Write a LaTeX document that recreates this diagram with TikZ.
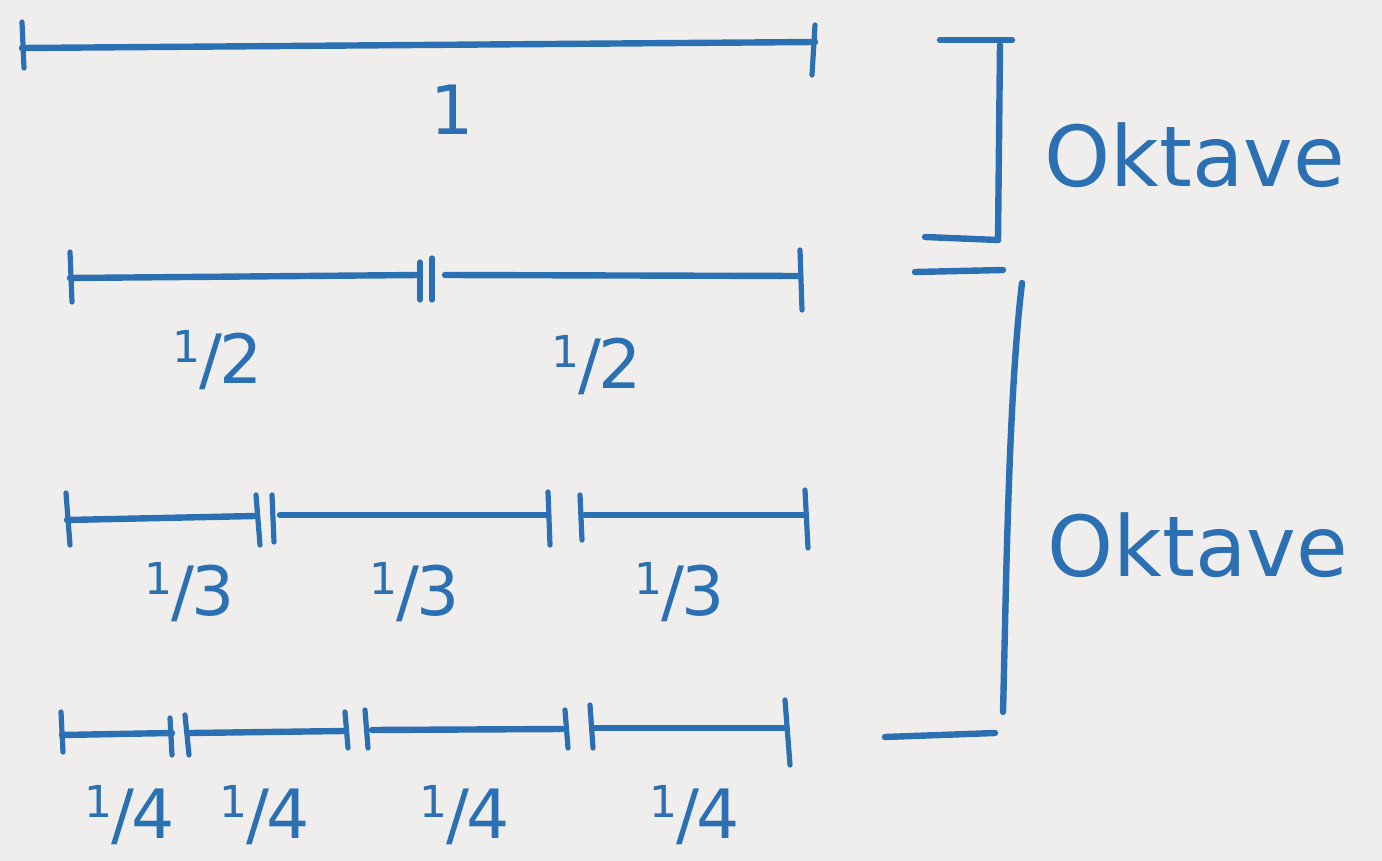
\documentclass[tikz,border=0pt]{standalone}
\usepackage{fontspec}
\setmainfont{DejaVu Sans}
\definecolor{ink}{RGB}{42,112,178}
\definecolor{paper}{RGB}{240,238,236}
\newcommand\frc[1]{\raisebox{0.32em}{\fontsize{22}{22}\selectfont 1}\kern-0.02em/\kern-0.04em#1}
\tikzset{
  pen/.style={draw=ink, line width=3.2pt, line cap=round, line join=round},
  tk/.style={draw=ink, line width=2.6pt, line cap=round},
  lab/.style={text=ink, font=\fontsize{34}{36}\selectfont, inner sep=0pt},
  oct/.style={text=ink, font=\fontsize{42}{44}\selectfont, inner sep=0pt}
}
\begin{document}
\begin{tikzpicture}[x=0.5pt,y=-0.5pt]
\fill[paper] (0,0) rectangle (1382,861);
\useasboundingbox (0,0) rectangle (1382,861);
% Row 1
\coordinate (a1) at (22,48); \coordinate (a2) at (815,42);
\draw[pen] (a1) -- (a2);
\draw[tk] (22,22) -- (24,68);
\draw[tk] (815,25) -- (812,75);
\node[lab] (l1) at (452,110) {1};
% Row 2
\coordinate (b1) at (70,278); \coordinate (b2) at (420,275);
\coordinate (b3) at (445,275); \coordinate (b4) at (800,276);
\draw[pen] (b1) -- (b2);
\draw[pen] (b3) -- (b4);
\draw[tk] (70,252) -- (72,302);
\draw[tk] (420,262) -- (420,300);
\draw[tk] (432,258) -- (432,300);
\draw[tk] (800,250) -- (802,310);
\node[lab] (l2a) at (218,360) {\frc{2}};
\node[lab] (l2b) at (597,365) {\frc{2}};
% Row 3
\coordinate (c1) at (67,520); \coordinate (c2) at (255,516);
\coordinate (c3) at (280,515); \coordinate (c4) at (547,515);
\coordinate (c5) at (585,515); \coordinate (c6) at (805,515);
\draw[pen] (c1) -- (c2);
\draw[pen] (c3) -- (c4);
\draw[pen] (c5) -- (c6);
\draw[tk] (66,493) -- (70,545);
\draw[tk] (256,495) -- (260,545);
\draw[tk] (272,495) -- (274,542);
\draw[tk] (548,492) -- (550,545);
\draw[tk] (580,495) -- (582,540);
\draw[tk] (805,490) -- (808,548);
\node[lab] (l3a) at (190,592) {\frc{3}};
\node[lab] (l3b) at (415,592) {\frc{3}};
\node[lab] (l3c) at (680,592) {\frc{3}};
% Row 4
\coordinate (d1) at (62,735); \coordinate (d2) at (172,733);
\coordinate (d3) at (190,733); \coordinate (d4) at (345,731);
\coordinate (d5) at (372,730); \coordinate (d6) at (562,729);
\coordinate (d7) at (595,728); \coordinate (d8) at (785,728);
\draw[pen] (d1) -- (d2);
\draw[pen] (d3) -- (d4);
\draw[pen] (d5) -- (d6);
\draw[pen] (d7) -- (d8);
\draw[tk] (61,712) -- (63,752);
\draw[tk] (170,718) -- (172,755);
\draw[tk] (185,715) -- (189,755);
\draw[tk] (345,712) -- (348,748);
\draw[tk] (365,710) -- (368,748);
\draw[tk] (565,710) -- (568,748);
\draw[tk] (590,705) -- (593,748);
\draw[tk] (785,700) -- (790,765);
\node[lab] (l4a) at (130,815) {\frc{4}};
\node[lab] (l4b) at (265,815) {\frc{4}};
\node[lab] (l4c) at (465,815) {\frc{4}};
\node[lab] (l4d) at (695,815) {\frc{4}};
% Brackets
\coordinate (p1) at (940,40); \coordinate (p2) at (1012,40);
\coordinate (p3) at (1000,45); \coordinate (p4) at (998,240);
\coordinate (p5) at (925,237);
\draw[pen] (p1) -- (p2);
\draw[pen] (p3) -- (p4);
\draw[pen] (p5) -- (p4);
\coordinate (q1) at (915,272); \coordinate (q2) at (1003,270);
\coordinate (q3) at (1022,283); \coordinate (q4) at (1003,712);
\coordinate (q5) at (885,737); \coordinate (q6) at (995,733);
\draw[pen] (q1) -- (q2);
\draw[pen] (q3) .. controls (1008,400) and (1006,600) .. (q4);
\draw[pen] (q5) -- (q6);
\node[oct] (o1) at (1195,155) {Oktave};
\node[oct] (o2) at (1198,545) {Oktave};
\end{tikzpicture}
\end{document}
